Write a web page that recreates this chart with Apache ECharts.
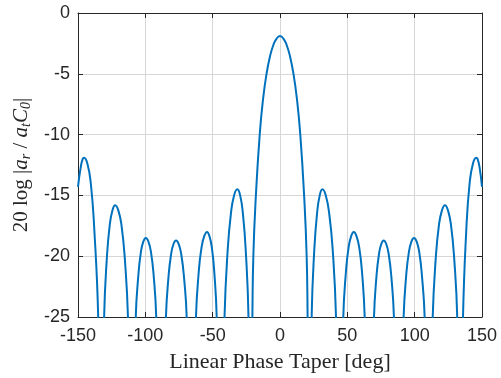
<!DOCTYPE html>
<html>
<head>
<meta charset="utf-8">
<script src="https://cdn.jsdelivr.net/npm/echarts@6/dist/echarts.min.js"></script>
<style>
  html, body { margin: 0; padding: 0; background: #fff; }
  #chart { width: 501px; height: 378px; }
</style>
</head>
<body>
<div id="chart"></div>
<script>
// phase taper (deg) and level (dB); -40 marks a null below the axis
const taperDeg = [
  -150, -148, -146.5, -145.5, -143, -140.5, -138, -135, -132.8,
  -130.6, -128.55, -126.5, -124.45, -122.4, -120.0, -117.65, -115.3, -112.9, -110,
  -107.1, -105.2, -103.35, -101.5, -99.6, -97.7, -95.75, -93.8, -91.9, -88.3,
  -84.7, -82.8, -80.95, -79.1, -77.2, -75.2, -73.25, -71.3, -69.3, -65.9,
  -62.4, -60.35, -58.3, -56.25, -54.2, -52.4, -50.6, -48.8, -47.0, -44.1,
  -41.2, -38.8, -36.45, -34.1, -31.7, -29.6, -27.55, -25.5, -23.4, -21.9,
  -20.5, -19.8, -18, -15, -12.5, -10, -7.5, -5, -2.5, 0,
  2.5, 5, 7.5, 10, 12.5, 15, 18, 19.8, 20.5, 22,
  23.5, 25.5, 27.5, 29.5, 31.5, 34.0, 36.55, 39.1, 41.6, 44.3,
  47.0, 48.95, 50.9, 52.85, 54.8, 56.8, 58.85, 60.9, 62.9, 66.3,
  69.8, 71.6, 73.4, 75.2, 77.0, 78.9, 80.8, 82.7, 84.6, 88.2,
  91.8, 93.7, 95.65, 97.6, 99.5, 101.5, 103.45, 105.4, 107.4, 110.4,
  113.4, 115.7, 117.95, 120.2, 122.5, 124.8, 127.05, 129.3, 131.6, 133.8,
  135.9, 138.35, 140.8, 143.25, 145.7, 146.7, 148.2, 150
];
const levelDb = [
  -14.3, -12.7, -12.0, -11.9, -12.4, -14.0, -17.6, -25, -40,
  -25, -20.1, -17.5, -16.25, -15.8, -16.25, -17.5, -20.1, -25, -40,
  -25, -21.6, -19.7, -18.8, -18.5, -18.8, -19.7, -21.6, -25, -40,
  -25, -21.7, -19.9, -19.0, -18.7, -19.0, -19.9, -21.7, -25, -40,
  -25, -21.3, -19.3, -18.35, -18.0, -18.35, -19.3, -21.3, -25, -40,
  -25, -19.4, -16.5, -15.0, -14.5, -15.0, -16.5, -19.4, -25, -40,
  -25, -20, -15.2, -9.9, -7.0, -5.0, -3.6, -2.65, -2.1, -1.9,
  -2.1, -2.65, -3.6, -5.0, -7.0, -9.9, -15.2, -20, -25, -40,
  -25, -19.4, -16.5, -15.0, -14.5, -15.0, -16.5, -19.4, -25, -40,
  -25, -21.3, -19.3, -18.35, -18.0, -18.35, -19.3, -21.3, -25, -40,
  -25, -21.7, -19.9, -19.0, -18.7, -19.0, -19.9, -21.7, -25, -40,
  -25, -21.6, -19.7, -18.8, -18.5, -18.8, -19.7, -21.6, -25, -40,
  -25, -20.1, -17.5, -16.25, -15.8, -16.25, -17.5, -20.1, -25, -40,
  -25, -17.8, -14.0, -12.4, -11.9, -12.0, -12.7, -14.3
];
const xTicks = [-150, -100, -50, 0, 50, 100, 150];
const yTicks = [-25, -20, -15, -10, -5, 0];

const axisColor = '#262626';
const gridColor = '#d6d6d6';
const labelFont = {
  color: axisColor,
  fontFamily: 'Liberation Sans, Arial, sans-serif',
  fontSize: 18,
};

const chart = echarts.init(document.getElementById('chart'));

const baseX = {
  type: 'value',
  min: xTicks[0],
  max: xTicks[xTicks.length - 1],
  interval: 50,
  axisTick: { show: true, inside: true, length: 5, lineStyle: { color: axisColor } },
  axisLine: { show: true, onZero: false, lineStyle: { color: axisColor, width: 1 } },
};
const baseY = {
  type: 'value',
  min: yTicks[0],
  max: yTicks[yTicks.length - 1],
  interval: 5,
  axisTick: { show: true, inside: true, length: 5, lineStyle: { color: axisColor } },
  axisLine: { show: true, onZero: false, lineStyle: { color: axisColor, width: 1 } },
};

chart.setOption({
  animation: false,
  grid: { left: 78, right: 19, top: 13, bottom: 61 },
  xAxis: [
    {
      ...baseX,
      position: 'bottom',
      axisLabel: { ...labelFont, margin: 10 },
      splitLine: { show: true, lineStyle: { color: gridColor, width: 1 } },
      name: 'Linear Phase Taper [deg]',
      nameLocation: 'middle',
      nameGap: 34,
      nameTextStyle: { color: axisColor, fontFamily: 'Liberation Serif, serif', fontSize: 22 },
    },
    {
      ...baseX,
      position: 'top',
      axisLabel: { show: false },
      splitLine: { show: false },
    },
  ],
  yAxis: [
    {
      ...baseY,
      position: 'left',
      axisLabel: { ...labelFont, margin: 8 },
      splitLine: { show: true, lineStyle: { color: gridColor, width: 1 } },
      name: '{n|20 log }{n||}{i|a}{s|r}{n| / }{i|a}{s|t}{i|C}{s|0}{n||}',
      nameLocation: 'middle',
      nameGap: 45,
      nameTextStyle: {
        color: axisColor,
        rich: {
          n: { fontFamily: 'Liberation Serif, serif', fontSize: 21, color: axisColor, lineHeight: 24 },
          i: { fontFamily: 'Liberation Serif, serif', fontStyle: 'italic', fontSize: 21, color: axisColor, lineHeight: 24 },
          s: { fontFamily: 'Liberation Serif, serif', fontStyle: 'italic', fontSize: 14, color: axisColor, lineHeight: 13, verticalAlign: 'bottom' },
        },
      },
    },
    {
      ...baseY,
      position: 'right',
      axisLabel: { show: false },
      splitLine: { show: false },
    },
  ],
  series: [
    {
      type: 'line',
      data: taperDeg.map((x, i) => [x, levelDb[i]]),
      showSymbol: false,
      smooth: 0.5,
      clip: true,
      lineStyle: { color: '#0072BD', width: 2 },
    },
  ],
});
</script>
</body>
</html>
